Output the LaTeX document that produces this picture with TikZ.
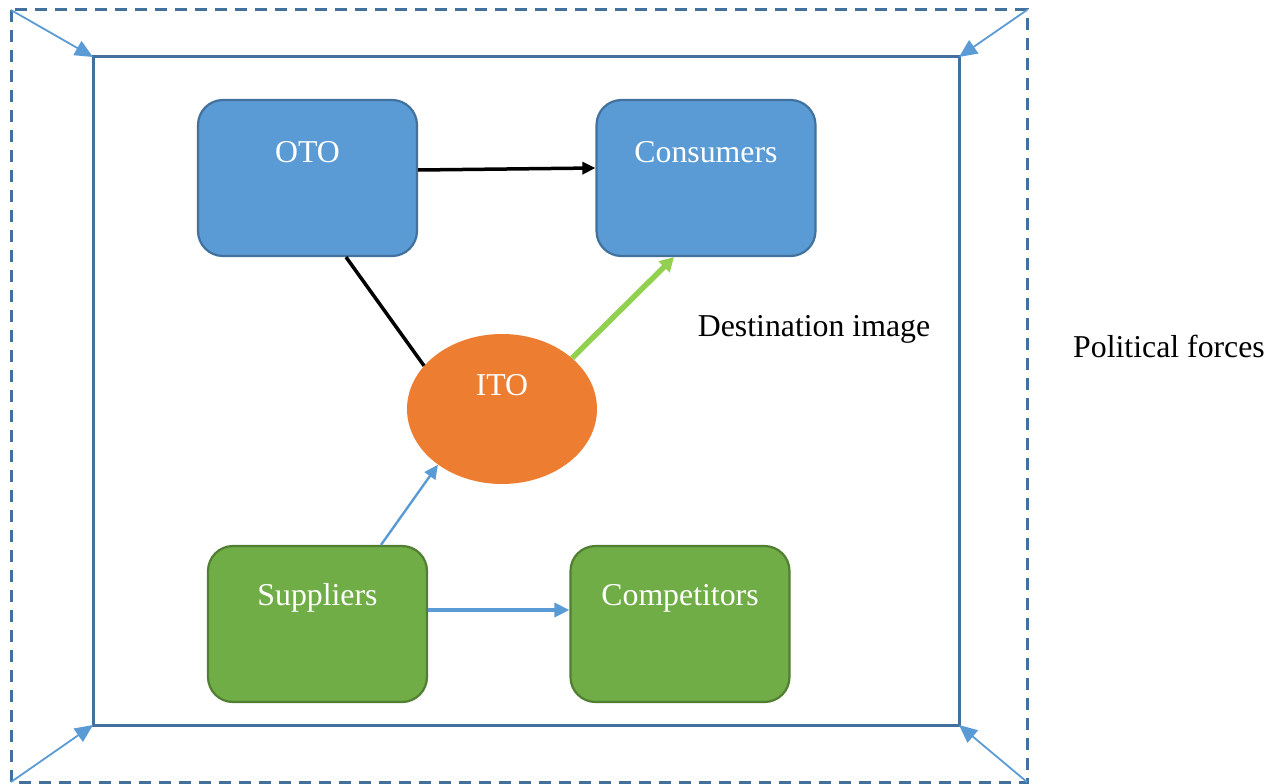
\documentclass[tikz,border=0pt]{standalone}
\usepackage{fontspec}
\setmainfont{Liberation Serif}
\usetikzlibrary{arrows.meta,shapes.geometric}
\definecolor{boxblue}{HTML}{5B9BD5}
\definecolor{boxblueline}{HTML}{41719C}
\definecolor{boxgreen}{HTML}{70AD47}
\definecolor{boxgreenline}{HTML}{507E32}
\definecolor{itoorange}{HTML}{ED7D31}
\definecolor{arrgreen}{HTML}{92D050}
\tikzset{
  x=1pt,y=-1pt,
  txt/.style={font=\fontsize{31.8}{36}\selectfont, inner sep=0pt, anchor=center},
  lbl/.style={txt, text=white},
  bluebox/.style={draw=boxblueline, fill=boxblue, line width=2.2pt, rounded corners=25pt, minimum width=219pt, minimum height=156pt, inner sep=0pt},
  greenbox/.style={draw=boxgreenline, fill=boxgreen, line width=2.2pt, rounded corners=25pt, minimum width=219pt, minimum height=156pt, inner sep=0pt},
  corner/.style={draw=boxblue, line width=1.8pt, -{Triangle[length=18pt,width=16pt]}},
  blarr/.style={draw=boxblue, line width=2.4pt, -{Triangle[length=14pt,width=13pt]}},
  kline/.style={draw=black, line width=3.5pt},
}
\begin{document}
\begin{tikzpicture}
\useasboundingbox (0,0) rectangle (1283,784);
% frames
\draw[boxblueline, line width=3pt, dash pattern=on 12pt off 8pt] (11,10) rectangle (1027,782);
\draw[boxblueline, line width=3pt] (93,57) rectangle (959,725);
\coordinate (o1) at (11,10); \coordinate (o2) at (1027,10);
\coordinate (o3) at (11,782); \coordinate (o4) at (1027,782);
\coordinate (i1) at (93,57); \coordinate (i2) at (959,57);
\coordinate (i3) at (93,725); \coordinate (i4) at (959,725);
\draw[corner] (o1) -- (i1);
\draw[corner] (o2) -- (i2);
\draw[corner] (o3) -- (i3);
\draw[corner] (o4) -- (i4);
% boxes
\node[bluebox] (oto) at (307.5,178) {};
\node[lbl] (otol) at (307.5,152) {OTO};
\node[bluebox] (cons) at (706,178) {};
\node[lbl] (consl) at (706,152) {Consumers};
\node[greenbox] (sup) at (317.5,624) {};
\node[lbl] (supl) at (317.5,598) {Suppliers};
\node[greenbox] (comp) at (680,624) {};
\node[lbl] (compl) at (680,598) {Competitors};
\node[ellipse, fill=itoorange, minimum width=190pt, minimum height=150pt, inner sep=0pt] (ito) at (502,409) {};
\node[lbl] (itol) at (502,385) {ITO};
% connectors
\draw[draw=black, line width=3.5pt, -{Triangle[length=13pt,width=12pt]}] ([yshift=8pt]oto.east) -- ([yshift=10pt]cons.west);
\draw[kline] (oto.south) ++(38.5,0) coordinate (a1) (a1) -- (ito.151);
\draw[draw=arrgreen, line width=5.5pt, -{Triangle[length=14pt,width=15pt]}] (ito.36) -- ([xshift=-32pt]cons.south);
\draw[blarr] ([xshift=63.5pt]sup.north) -- (ito.221);
\draw[draw=boxblue, line width=3.2pt, -{Triangle[length=15pt,width=14pt]}] ([yshift=14pt]sup.east) -- ([yshift=14pt]comp.west);
% free labels
\node[txt] (dest) at (814,329) {Destination image};
\node[txt] (pol) at (1169,346) {Political forces};
\end{tikzpicture}
\end{document}
